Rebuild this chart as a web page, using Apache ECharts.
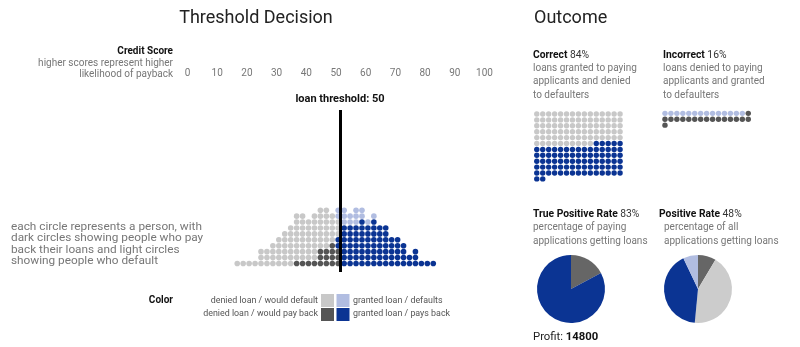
<!DOCTYPE html>
<html><head><meta charset="utf-8">
<script src="https://cdn.jsdelivr.net/npm/echarts@6/dist/echarts.min.js"></script>
<style>html,body{margin:0;padding:0;background:#fff}#c{width:800px;height:347px}</style>
</head><body><div id="c"></div>
<script>
// ---------- data ----------
const tickLabels = [0, 10, 20, 30, 40, 50, 60, 70, 80, 90, 100];
const threshold = 50;
const columnScores = [15.4, 17.4, 19.4, 21.4, 23.4, 25.4, 27.4, 29.4, 31.4, 33.4, 35.4, 37.4, 39.4, 41.4, 43.4, 45.4, 47.4,
  49.4, 51.4, 53.4, 55.4, 57.4, 59.4, 61.4, 63.4, 65.4, 67.4, 69.4, 71.4, 73.4, 75.4, 77.4, 79.4, 81.4];
// people per column, stacked bottom -> top in this order
const deniedPayback  = [0,0,0,0,0,0,0,0,0,0,1,1,1,1,3,3,4, 3, 0,0,0,0,0,0,0,0,0,0,0,0,0,0,0,0];
const grantedPayback = [0,0,0,0,0,0,0,0,0,0,0,0,0,0,0,0,0, 2, 7,7,7,8,7,8,7,7,5,5,4,2,3,1,1,1];
const deniedDefault  = [1,1,1,1,3,3,4,5,6,7,8,8,7,8,7,7,5, 3, 0,0,0,0,0,0,0,0,0,0,0,0,0,0,0,0];
const grantedDefault = [0,0,0,0,0,0,0,0,0,0,0,0,0,0,0,0,0, 2, 3,2,3,2,1,1,0,0,0,0,0,0,0,0,0,0];
const profit = 14800;

// ---------- colours ----------
const C_DP = '#555555', C_DD = '#c8c8c8', C_GP = '#0b3493', C_GD = '#b1bde1';
const FONT = 'Roboto';

// ---------- derived ----------
const sum = a => a.reduce((s, v) => s + v, 0);
const nDP = sum(deniedPayback), nDD = sum(deniedDefault), nGP = sum(grantedPayback), nGD = sum(grantedDefault);
const total = nDP + nDD + nGP + nGD;
const nCorrect = nDD + nGP, nIncorrect = nGD + nDP;
const pct = v => Math.round(v * 100) + '%';

const dotPts = { dp: [], gp: [], dd: [], gd: [] };
columnScores.forEach((s, k) => {
  let r = 0;
  [['dp', deniedPayback], ['gp', grantedPayback], ['dd', deniedDefault], ['gd', grantedDefault]].forEach(([key, arr]) => {
    for (let i = 0; i < arr[k]; i++) dotPts[key].push([s, r++]);
  });
});

const WAFFLE_COLS = 15;
function waffle(counts) {
  const out = []; let i = 0;
  counts.forEach(n => {
    const pts = [];
    for (let j = 0; j < n; j++, i++) pts.push([i % WAFFLE_COLS, Math.floor(i / WAFFLE_COLS)]);
    out.push(pts);
  });
  return out;
}
const correctW = waffle([nDD, nGP]);
const incorrectW = waffle([nGD, nDP]);

// ---------- chart ----------
const chart = echarts.init(document.getElementById('c'), null, { renderer: 'canvas' });

function txt(x, y, text, o = {}) {
  return {
    type: 'text', x, y, silent: true,
    style: Object.assign({
      text, fontFamily: FONT, fontSize: 10, fill: '#777',
      textAlign: 'left', textVerticalAlign: 'middle'
    }, o)
  };
}
const boldRich = (size, color) => ({ b: { fontWeight: 'bold', fontSize: size, fontFamily: FONT, fill: color, color: color } });

const dotSize = 5.6;
const waffleSize = 5.4;
const sc = (xi, yi, size, color, data) => ({
  type: 'scatter', xAxisIndex: xi, yAxisIndex: yi, symbolSize: size,
  itemStyle: { color, opacity: 1 }, data, silent: true
});

const option = {
  animation: false,
  textStyle: { fontFamily: FONT },
  grid: [
    { left: 191.5, width: 297, top: 110, height: 162, outerBoundsMode: 'none' },
    { left: 533.8, width: 15 * 5.95, top: 111.05, height: 12 * 5.9, outerBoundsMode: 'none' },
    { left: 662.0, width: 15 * 5.95, top: 110.4, height: 3 * 5.9, outerBoundsMode: 'none' }
  ],
  xAxis: [
    {
      gridIndex: 0, type: 'value', position: 'top', min: 0, max: 100, interval: 10,
      axisLine: { show: false }, axisTick: { show: false }, splitLine: { show: false },
      axisLabel: {
        margin: 32, fontSize: 10, color: '#777', fontFamily: FONT, padding: [0, 8, 0, 0],
        formatter: v => (tickLabels.includes(v) ? String(v) : '')
      }
    },
    { gridIndex: 1, type: 'value', min: -0.5, max: WAFFLE_COLS - 0.5, show: false },
    { gridIndex: 2, type: 'value', min: -0.5, max: WAFFLE_COLS - 0.5, show: false }
  ],
  yAxis: [
    { gridIndex: 0, type: 'value', min: -1.436, max: 25.93, show: false },
    { gridIndex: 1, type: 'value', min: -0.5, max: 11.5, inverse: true, show: false },
    { gridIndex: 2, type: 'value', min: -0.5, max: 2.5, inverse: true, show: false }
  ],
  series: [
    sc(0, 0, dotSize, C_DD, dotPts.dd),
    sc(0, 0, dotSize, C_GD, dotPts.gd),
    sc(0, 0, dotSize, C_DP, dotPts.dp),
    Object.assign(sc(0, 0, dotSize, C_GP, dotPts.gp), {
      markLine: {
        silent: true, symbol: 'none', animation: false,
        lineStyle: { color: '#000', width: 3, type: 'solid', opacity: 1 },
        label: {
          show: true, position: 'end', distance: 5, formatter: 'loan threshold: ' + threshold,
          fontWeight: 'bold', fontSize: 11, color: '#111', fontFamily: FONT
        },
        data: [{ xAxis: threshold }]
      }
    }),
    sc(1, 1, waffleSize, C_DD, correctW[0]),
    sc(1, 1, waffleSize, C_GP, correctW[1]),
    sc(2, 2, waffleSize, C_GD, incorrectW[0]),
    sc(2, 2, waffleSize, C_DP, incorrectW[1]),
    {
      type: 'pie', center: [571, 289], radius: 34, startAngle: 90, clockwise: true, silent: true,
      label: { show: false }, labelLine: { show: false },
      data: [
        { value: nDP, itemStyle: { color: '#666' } },
        { value: nGP, itemStyle: { color: C_GP } }
      ]
    },
    {
      type: 'pie', center: [698, 289], radius: 34, startAngle: 90, clockwise: true, silent: true,
      label: { show: false }, labelLine: { show: false },
      data: [
        { value: nDP, itemStyle: { color: '#666' } },
        { value: nDD, itemStyle: { color: '#cccccc' } },
        { value: nGP, itemStyle: { color: C_GP } },
        { value: nGD, itemStyle: { color: C_GD } }
      ]
    }
  ],
  graphic: [
    txt(256, 18, 'Threshold Decision', { fontSize: 18, fill: '#222', textAlign: 'center' }),
    txt(534, 18, 'Outcome', { fontSize: 18, fill: '#222' }),
    txt(173, 51.5, 'Credit Score', { fontWeight: 'bold', fill: '#111', textAlign: 'right' }),
    txt(173, 63, 'higher scores represent higher', { textAlign: 'right' }),
    txt(173, 74, 'likelihood of payback', { textAlign: 'right' }),
    txt(11, 227, 'each circle represents a person, with', { fontSize: 11.8 }),
    txt(11, 238.5, 'dark circles showing people who pay', { fontSize: 11.8 }),
    txt(11, 250, 'back their loans and light circles', { fontSize: 11.8 }),
    txt(11, 261.5, 'showing people who default', { fontSize: 11.8 }),
    txt(173, 300, 'Color', { fontWeight: 'bold', fill: '#111', textAlign: 'right' }),
    txt(318, 300.5, 'denied loan / would default', { fontSize: 8.9, fill: '#555', textAlign: 'right' }),
    txt(318, 314, 'denied loan / would pay back', { fontSize: 8.9, fill: '#555', textAlign: 'right' }),
    txt(353, 300.5, 'granted loan / defaults', { fontSize: 8.9, fill: '#555' }),
    txt(353, 314, 'granted loan / pays back', { fontSize: 8.9, fill: '#555' }),
    { type: 'rect', silent: true, shape: { x: 321, y: 294, width: 13, height: 13 }, style: { fill: C_DD } },
    { type: 'rect', silent: true, shape: { x: 336.5, y: 294, width: 13, height: 13 }, style: { fill: C_GD } },
    { type: 'rect', silent: true, shape: { x: 321, y: 308, width: 13, height: 13 }, style: { fill: C_DP } },
    { type: 'rect', silent: true, shape: { x: 336.5, y: 308, width: 13, height: 13 }, style: { fill: C_GP } },

    txt(533, 55, '{b|Correct} ' + pct(nCorrect / total), { fontSize: 10.3, fill: '#333', rich: boldRich(10.3, '#111') }),
    txt(533, 68.5, 'loans granted to paying'),
    txt(533, 81.8, 'applicants and denied'),
    txt(533, 95, 'to defaulters'),
    txt(663, 55, '{b|Incorrect} ' + pct(nIncorrect / total), { fontSize: 10.3, fill: '#333', rich: boldRich(10.3, '#111') }),
    txt(663, 68.5, 'loans denied to paying'),
    txt(663, 81.8, 'applicants and granted'),
    txt(663, 95, 'to defaulters'),

    txt(533, 214, '{b|True Positive Rate} ' + pct(nGP / (nGP + nDP)), { fontSize: 10.3, fill: '#333', rich: boldRich(10.3, '#111') }),
    txt(533, 227.5, 'percentage of paying'),
    txt(533, 241, 'applications getting loans'),
    txt(659, 214, '{b|Positive Rate} ' + pct((nGP + nGD) / total), { fontSize: 10.3, fill: '#333', rich: boldRich(10.3, '#111') }),
    txt(664, 227.5, 'percentage of all'),
    txt(664, 241, 'applications getting loans'),

    txt(533, 337, 'Profit: {b|' + profit + '}', { fontSize: 11.3, fill: '#222', rich: boldRich(11.3, '#111') })
  ]
};
chart.setOption(option);
</script>
</body></html>
